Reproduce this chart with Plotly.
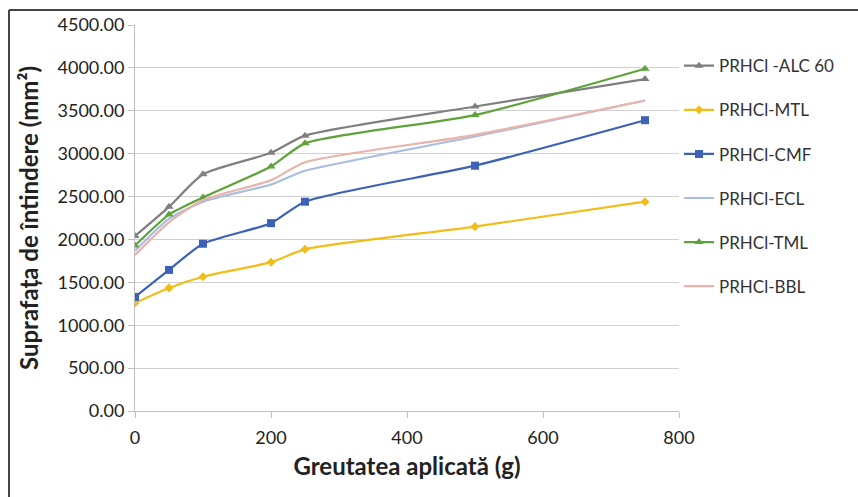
import plotly.graph_objects as go

x_vals = [0, 50, 100, 200, 250, 500, 750]

alc60 = [2040, 2380, 2760, 3010, 3210, 3550, 3870]
mtl = [1260, 1435, 1565, 1735, 1885, 2150, 2440]
cmf = [1330, 1645, 1950, 2190, 2440, 2860, 3390]
ecl = [1870, 2240, 2440, 2640, 2800, 3200, 3620]
tml = [1930, 2290, 2490, 2850, 3120, 3450, 3990]
bbl = [1820, 2200, 2460, 2690, 2900, 3220, 3620]

names = ["PRHCl -ALC 60", "PRHCl-MTL", "PRHCl-CMF", "PRHCl-ECL", "PRHCl-TML", "PRHCl-BBL"]
series = [alc60, mtl, cmf, ecl, tml, bbl]
colors = ["#7f7f7f", "#f2bd19", "#3b62b6", "#a9bde3", "#5ea33a", "#e9b3aa"]
symbols = ["triangle-up", "diamond", "square", None, "triangle-up", None]
sizes = [8, 7, 8, 0, 8, 0]

fig = go.Figure()
for i, (nm, ys, c, sym, sz) in enumerate(zip(names, series, colors, symbols, sizes)):
    mode = "lines+markers" if sym else "lines"
    fig.add_trace(go.Scatter(
        x=x_vals, y=ys, name=nm, mode=mode,
        line=dict(color=c, width=2.2, shape="spline", smoothing=0.6),
        marker=dict(symbol=sym if sym else "circle", size=sz, color=c),
        legendgroup=f"g{i}",
    ))

font_fam = "Lato, Open Sans, sans-serif"

fig.update_layout(
    width=858, height=497,
    margin=dict(l=135, r=179, t=25, b=86),
    paper_bgcolor="white", plot_bgcolor="white",
    font=dict(family=font_fam, size=18, color="#222"),
    showlegend=True,
    legend=dict(x=1.0, y=0.94, xanchor="left", yanchor="top",
                font=dict(size=17, color="#333"), tracegroupgap=19,
                itemwidth=30, bgcolor="rgba(0,0,0,0)"),
    xaxis=dict(range=[0, 800], tickvals=[0, 200, 400, 600, 800],
               showgrid=False, showline=True, linecolor="#bfbfbf", linewidth=1,
               ticks="outside", tickcolor="#bfbfbf", ticklen=6, zeroline=False,
               ticklabelstandoff=4,
               tickfont=dict(size=18, color="#222"),
               title=dict(text="<b>Greutatea aplicată (g)</b>", font=dict(size=24, color="#222"), standoff=11)),
    yaxis=dict(range=[0, 4500], tickvals=[0, 500, 1000, 1500, 2000, 2500, 3000, 3500, 4000, 4500],
               tickformat=".2f", showgrid=True, gridcolor="#d0d0d0", gridwidth=1.3,
               showline=True, linecolor="#bfbfbf", linewidth=1, zeroline=False,
               ticks="outside", tickcolor="#bfbfbf", ticklen=6,
               tickfont=dict(size=18, color="#222"),
               title=dict(text="<b>Suprafața de întindere (mm²)</b>", font=dict(size=24, color="#222"), standoff=12)),
)

# outer frame (left and top edges visible)
fig.add_shape(type="line", xref="paper", yref="paper",
              x0=(9 - 135) / 544, x1=(9 - 135) / 544, y0=(411 - 10) / 386, y1=(411 - 520) / 386,
              line=dict(color="#444", width=2))
fig.add_shape(type="line", xref="paper", yref="paper",
              x0=(9 - 135) / 544, x1=(870 - 135) / 544, y0=(411 - 10) / 386, y1=(411 - 10) / 386,
              line=dict(color="#444", width=2))

fig.write_html("out.html")
